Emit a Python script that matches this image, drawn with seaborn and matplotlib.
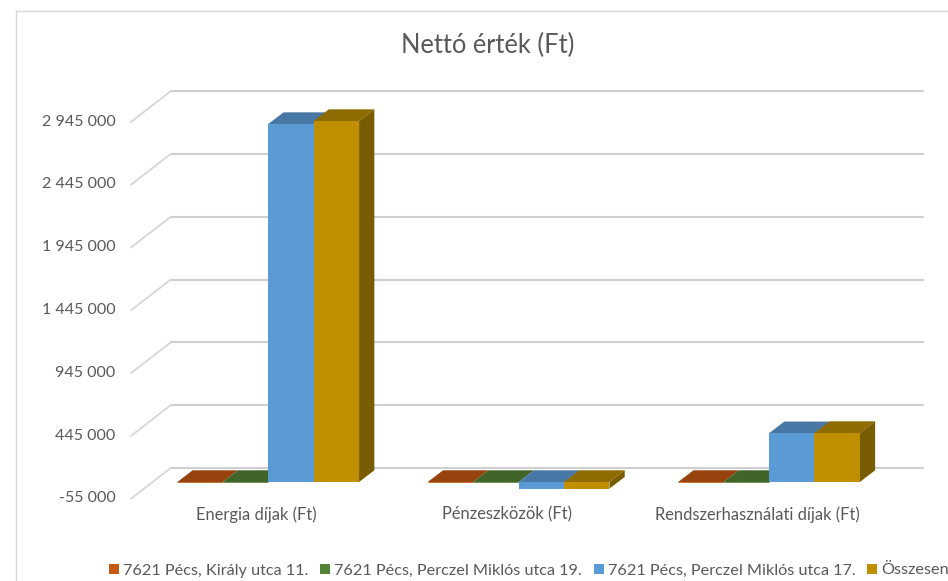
import matplotlib
matplotlib.use('Agg')
import matplotlib.pyplot as plt
import pandas as pd
import seaborn as sns
from matplotlib.patches import Polygon, Rectangle
from matplotlib.transforms import ScaledTranslation

# Data
categories = ['Energia díjak (Ft)', 'Pénzeszközök (Ft)', 'Rendszerhasználati díjak (Ft)']
series = ['7621 Pécs, Király utca 11.', '7621 Pécs, Perczel Miklós utca 19.',
          '7621 Pécs, Perczel Miklós utca 17.', 'Összesen']
kiraly = [0, 0, 0]
perczel_19 = [0, 0, 0]
perczel_17 = [2850000, -53000, 388000]
osszesen = [2874000, -53000, 390000]
y_ticks = [-55000, 445000, 945000, 1445000, 1945000, 2445000, 2945000]
y_labels = ['-55 000', '445 000', '945 000', '1 445 000', '1 945 000', '2 445 000', '2 945 000']

colors = ['#C55A11', '#548235', '#5B9BD5', '#BF8F00']
top_colors = ['#96430D', '#416428', '#4878A5', '#8F6C00']
side_colors = ['#7A370A', '#334F20', '#3A6186', '#7A5C00']

W, H = 948, 581
sns.set_style('white')
plt.rcParams['font.family'] = ['Lato', 'DejaVu Sans']

df = pd.DataFrame({'cat': categories * 4,
                   'series': [s for s in series for _ in categories],
                   'value': kiraly + perczel_19 + perczel_17 + osszesen})

fig = plt.figure(figsize=(W / 100, H / 100), dpi=100)
# axes box = the front plane of the bars
left, right, top, bottom = 131, 923, 112.1, 488.9
ax = fig.add_axes([left / W, 1 - bottom / H, (right - left) / W, (bottom - top) / H])

sns.barplot(df, x='cat', y='value', hue='series', palette=colors, saturation=1,
            width=0.7256, ax=ax, legend=False, linewidth=0.6, edgecolor='none')

group_px = 250.4
ax.set_xlim((left - 268.2) / group_px, (right - 268.2) / group_px)
ax.set_ylim(y_ticks[0], y_ticks[-1])
val_px = (y_ticks[-1] - y_ticks[0]) / (bottom - top)

# gridlines: back wall + the diagonal on the left floor
x0, x1 = ax.get_xlim()
wall_dx = 39.7 / group_px
for v in y_ticks:
    wall_y = v + 20.9 * val_px
    ax.plot([x0 + wall_dx, x1], [wall_y, wall_y], color='#CFCFCF', lw=1.5, zorder=1, clip_on=False)
    ax.plot([x0, x0 + wall_dx], [v - 9.8 * val_px, wall_y], color='#D6D6D6', lw=1.3, zorder=1, clip_on=False)

# fake 3d: top and side faces worked out from each seaborn bar
dx = 15.3 / group_px
dy = 11.7 * val_px
bars = sorted(ax.patches, key=lambda p: p.get_x())
hue_of = {}
for i, cont in enumerate(ax.containers):
    for p in cont:
        hue_of[p] = i
for n, p in enumerate(bars):
    c = hue_of[p]
    xa, xb = p.get_x(), p.get_x() + p.get_width()
    ya, yb = sorted([p.get_y(), p.get_y() + p.get_height()])
    z = 2 + n * 0.01
    ax.add_patch(Polygon([(xa, yb), (xa + dx, yb + dy), (xb + dx, yb + dy), (xb, yb)],
                         fc=top_colors[c], ec='none', zorder=z, clip_on=False))
    ax.add_patch(Polygon([(xb, ya), (xb + dx, ya + dy), (xb + dx, yb + dy), (xb, yb)],
                         fc=side_colors[c], ec='none', zorder=z, clip_on=False))
    p.set_zorder(z + 0.001)
    p.set_clip_on(False)
    if p.get_height() == 0:
        p.set_edgecolor(colors[c])

sns.despine(ax=ax, left=True, bottom=True, top=True, right=True)
ax.patch.set_alpha(0)
ax.set_xlabel('')
ax.set_ylabel('')
ax.set_yticks(y_ticks, y_labels)
ax.tick_params(axis='y', length=0, labelsize=11.5, labelcolor='#595959', pad=11)
ax.tick_params(axis='x', length=0, labelsize=11.9, labelcolor='#595959', pad=12.5)
for lab in ax.get_yticklabels():
    lab.set_transform(lab.get_transform() + ScaledTranslation(0, -8 / 100, fig.dpi_scale_trans))
for lab in ax.get_xticklabels():
    lab.set_transform(lab.get_transform() + ScaledTranslation(-12 / 100, 0, fig.dpi_scale_trans))

fig.text(487.5 / W, 1 - 45 / H, 'Nettó érték (Ft)', ha='center', va='center', fontsize=18.4, color='#595959')

handles = [Rectangle((0, 0), 1, 1, fc=c, ec='none') for c in colors]
fig.legend(handles, series, ncol=4, loc='center left', bbox_to_anchor=(109 / W, 1 - 570.5 / H),
           frameon=False, fontsize=11.7, labelcolor='#595959', handlelength=0.62, handleheight=0.62,
           handletextpad=0.25, columnspacing=0.72, borderpad=0, borderaxespad=0)

# chart frame
fig.add_artist(plt.Line2D([16 / W, 16 / W], [0, 1 - 11 / H], color='#D9D9D9', lw=1))
fig.add_artist(plt.Line2D([16 / W, 1], [1 - 11 / H, 1 - 11 / H], color='#D9D9D9', lw=1))

fig.savefig('out.png', dpi=100)
